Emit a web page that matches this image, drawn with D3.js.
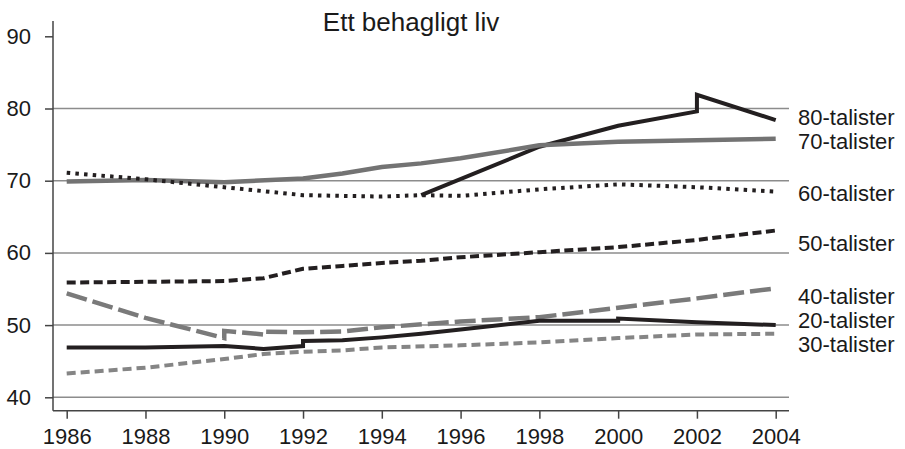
<!DOCTYPE html>
<html>
<head>
<meta charset="utf-8">
<script src="https://cdn.jsdelivr.net/npm/d3@7"></script>
<style>
  body { margin: 0; background: #fff; }
  text { font-family: "Liberation Sans", Arial, sans-serif; fill: #1a1a1a; }
</style>
</head>
<body>
<div id="canvas"></div>
<script>
/* DATA */
const yearTicks = [1986, 1988, 1990, 1992, 1994, 1996, 1998, 2000, 2002, 2004];
const valueTicks = [40, 50, 60, 70, 80, 90];
const gridValues = [40, 50, 60, 70, 80];

const seriesNames = ["80-talister", "70-talister", "60-talister", "50-talister", "40-talister", "20-talister", "30-talister"];

const years80 = [1995, 1998, 2000, 2002, 2002, 2004];
const values80 = [68.0, 74.7, 77.6, 79.6, 81.9, 78.4];

const years70 = [1986, 1988, 1990, 1992, 1993, 1994, 1995, 1996, 1998, 2000, 2002, 2004];
const values70 = [69.9, 70.1, 69.8, 70.3, 71.0, 71.9, 72.4, 73.1, 74.9, 75.4, 75.6, 75.8];

const years60 = [1986, 1988, 1990, 1992, 1993, 1994, 1995, 1996, 1998, 2000, 2002, 2004];
const values60 = [71.1, 70.2, 69.1, 68.0, 67.9, 67.8, 68.0, 67.9, 68.8, 69.5, 69.1, 68.5];

const years50 = [1986, 1988, 1990, 1991, 1992, 1993, 1994, 1995, 1996, 1998, 2000, 2002, 2004];
const values50 = [55.9, 56.0, 56.1, 56.5, 57.8, 58.2, 58.6, 58.9, 59.4, 60.1, 60.8, 61.8, 63.1];

const years40 = [1986, 1988, 1990, 1990, 1991, 1991, 1992, 1993, 1994, 1996, 1998, 2000, 2002, 2004];
const values40 = [54.4, 51.0, 48.2, 49.2, 48.7, 49.1, 49.0, 49.1, 49.7, 50.5, 51.1, 52.4, 53.7, 55.1];

const years20 = [1986, 1988, 1990, 1991, 1992, 1992, 1993, 1994, 1995, 1996, 1998, 2000, 2000, 2002, 2004];
const values20 = [46.9, 46.9, 47.1, 46.7, 47.1, 47.8, 47.9, 48.3, 48.8, 49.4, 50.6, 50.6, 50.9, 50.4, 50.0];

const years30 = [1986, 1988, 1990, 1991, 1992, 1993, 1994, 1996, 1998, 2000, 2002, 2004];
const values30 = [43.3, 44.1, 45.3, 46.0, 46.3, 46.5, 46.9, 47.2, 47.6, 48.2, 48.7, 48.8];

/* SVG CANVAS */
const width = 905;
const height = 449;

const svg = d3.select("#canvas")
    .append("svg")
    .attr("width", width)
    .attr("height", height);

/* SCALES */
const x = d3.scaleLinear().domain([1986, 2004]).range([66.7, 775.7]);
const y = d3.scaleLinear().domain([40, 90]).range([397.3, 36.3]);

const axisX = 53;
const axisY = 410.7;
const gridRight = 789;

/* GRIDLINES */
svg.append("g")
    .selectAll("line")
    .data(gridValues)
    .join("line")
    .attr("x1", axisX)
    .attr("x2", gridRight)
    .attr("y1", d => y(d))
    .attr("y2", d => y(d))
    .attr("stroke", "#8c8c8c")
    .attr("stroke-width", 1.5);

/* Y AXIS */
const yAxis = svg.append("g")
    .attr("transform", `translate(${axisX},0)`)
    .call(d3.axisLeft(y).tickValues(valueTicks).tickSize(8).tickPadding(14).tickSizeOuter(0));
yAxis.select(".domain").remove();
yAxis.append("line")
    .attr("x1", 0).attr("x2", 0)
    .attr("y1", 21).attr("y2", axisY)
    .attr("stroke", "#444").attr("stroke-width", 1.5);
yAxis.selectAll(".tick line").attr("stroke", "#444").attr("stroke-width", 1.5);
yAxis.selectAll(".tick text")
    .attr("font-size", 22)
    .attr("fill", "#1a1a1a");

/* X AXIS */
const xAxis = svg.append("g")
    .attr("transform", `translate(0,${axisY})`)
    .call(d3.axisBottom(x).tickValues(yearTicks).tickFormat(d3.format("d")).tickSize(8).tickPadding(10).tickSizeOuter(0));
xAxis.select(".domain").remove();
xAxis.append("line")
    .attr("x1", axisX).attr("x2", gridRight)
    .attr("y1", 0).attr("y2", 0)
    .attr("stroke", "#444").attr("stroke-width", 1.5);
xAxis.selectAll(".tick line").attr("stroke", "#444").attr("stroke-width", 1.5);
xAxis.selectAll(".tick text")
    .attr("font-size", 22)
    .attr("fill", "#1a1a1a");

/* LINES */
const allYears = [years80, years70, years60, years50, years40, years20, years30];
const allValues = [values80, values70, values60, values50, values40, values20, values30];

const styles = [
    { color: "#231f20", dash: null, w: 4 },
    { color: "#737373", dash: null, w: 4.5 },
    { color: "#231f20", dash: "3.5,5.2", w: 4 },
    { color: "#231f20", dash: "9,4.5", w: 4 },
    { color: "#7a7a7a", dash: "21,6", w: 4.5 },
    { color: "#231f20", dash: null, w: 4 },
    { color: "#858585", dash: "9,5", w: 4 }
];

const line = d3.line()
    .x(d => x(d[0]))
    .y(d => y(d[1]));

seriesNames.forEach(function(name, i) {
    const pts = allYears[i].map((yr, j) => [yr, allValues[i][j]]);
    svg.append("path")
        .datum(pts)
        .attr("d", line)
        .attr("fill", "none")
        .attr("stroke", styles[i].color)
        .attr("stroke-width", styles[i].w)
        .attr("stroke-dasharray", styles[i].dash)
        .attr("stroke-linejoin", "miter");
});

/* SERIES LABELS (placed in value units, like the original) */
const labelAt = [78.8, 75.5, 68.2, 61.3, 54.0, 50.7, 47.4];

svg.append("g")
    .selectAll("text")
    .data(seriesNames)
    .join("text")
    .attr("x", 798)
    .attr("y", (d, i) => y(labelAt[i]))
    .attr("dy", "0.35em")
    .attr("font-size", 22)
    .text(d => d);

/* TITLE */
svg.append("text")
    .attr("x", 411)
    .attr("y", 31)
    .attr("text-anchor", "middle")
    .attr("font-size", 26)
    .text("Ett behagligt liv");
</script>
</body>
</html>
